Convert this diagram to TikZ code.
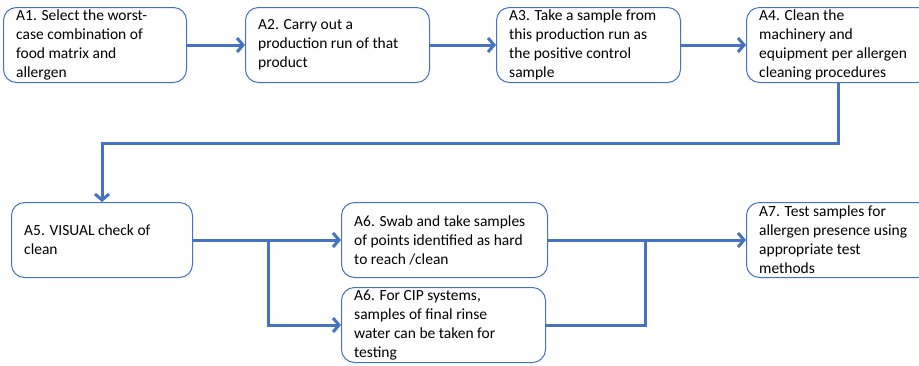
\documentclass[tikz,border=0pt]{standalone}
\usepackage{fontspec}
\setmainfont{Carlito}
\usetikzlibrary{arrows.meta,calc}
\definecolor{flowblue}{HTML}{4472C4}
\tikzset{
  stepbox/.style={draw=flowblue, line width=1pt, rounded corners=13pt,
    anchor=north west, inner sep=0pt, minimum height=75pt},
  steptext/.style={anchor=west, align=left, inner sep=0pt,
    font=\fontsize{15.5}{19}\selectfont},
  flow/.style={draw=flowblue, line width=3pt,
    -{Straight Barb[length=6pt,width=14pt,line width=3pt]}},
  link/.style={draw=flowblue, line width=3pt},
}
\begin{document}
\begin{tikzpicture}[x=1pt,y=-1pt]
\path[use as bounding box] (0,0) rectangle (919,365);
\clip (0,0) rectangle (919,365);

% top row
\node[stepbox, minimum width=183pt] (a1) at (3,7) {};
\node[stepbox, minimum width=184pt] (a2) at (245,7) {};
\node[stepbox, minimum width=184pt] (a3) at (496,7) {};
\node[stepbox, minimum width=184pt] (a4) at (746,7) {};

% bottom row
\node[stepbox, minimum width=181pt] (a5) at (11,202) {};
\node[stepbox, minimum width=206pt] (a6a) at (341,202) {};
\node[stepbox, minimum width=204pt] (a6b) at (341,287) {};
\node[stepbox, minimum width=184pt] (a7) at (746,202) {};

% labels
\node[steptext] (t1) at ($(a1.west)+(13,0)$) {A1. Select the worst-\\case combination of\\food matrix and\\allergen};
\node[steptext] (t2) at ($(a2.west)+(13,0)$) {A2. Carry out a\\production run of that\\product};
\node[steptext] (t3) at ($(a3.west)+(13,0)$) {A3. Take a sample from\\this production run as\\the positive control\\sample};
\node[steptext] (t4) at ($(a4.west)+(13,0)$) {A4. Clean the\\machinery and\\equipment per allergen\\cleaning procedures};
\node[steptext] (t5) at ($(a5.west)+(13,0)$) {A5. VISUAL check of\\clean};
\node[steptext] (t6a) at ($(a6a.west)+(13,0)$) {A6. Swab and take samples\\of points identified as hard\\to reach /clean};
\node[steptext] (t6b) at ($(a6b.west)+(13,0)$) {A6. For CIP systems,\\samples of final rinse\\water can be taken for\\testing};
\node[steptext] (t7) at ($(a7.west)+(13,0)$) {A7. Test samples for\\allergen presence using\\appropriate test\\methods};

% connectors
\draw[flow] (a1.east) -- (a2.west);
\draw[flow] (a2.east) -- (a3.west);
\draw[flow] (a3.east) -- (a4.west);
\draw[flow] (a4.south) -- ++(0,60) -| (a5.north);
\draw[flow] (a5.east) -- (a6a.west);
\coordinate (split) at ($(a5.east)+(75,0)$);
\draw[flow] (split) |- (a6b.west);
\draw[flow] (a6a.east) -- (a7.west);
\coordinate (merge) at ($(a7.west)+(-101,0)$);
\draw[link] (a6b.east) -| (merge);
\end{tikzpicture}
\end{document}
